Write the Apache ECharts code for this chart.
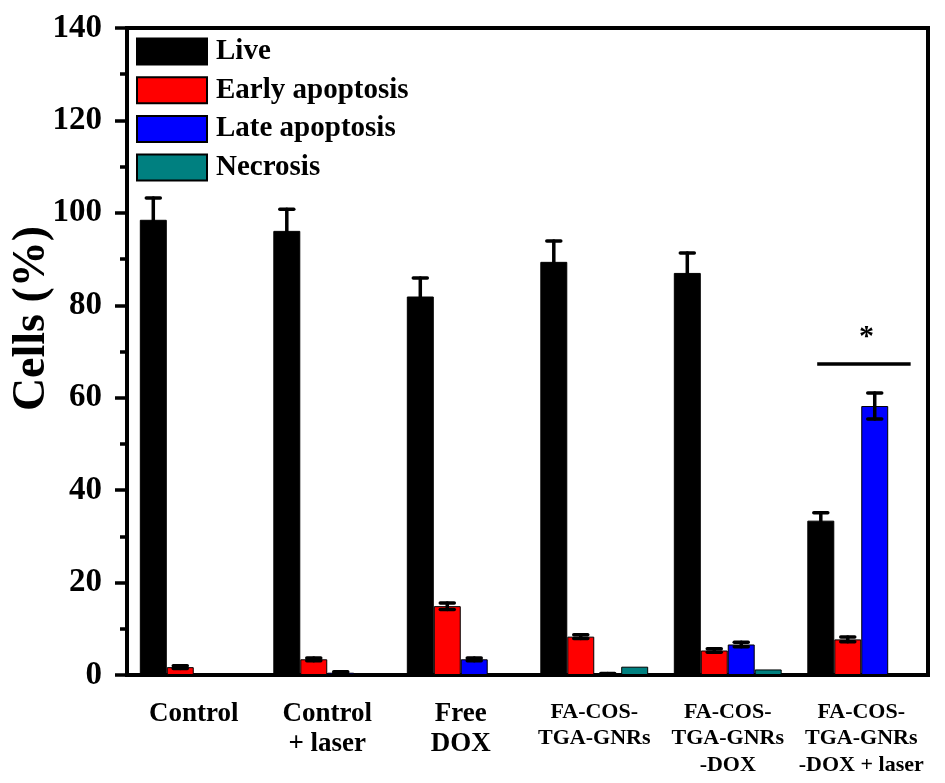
<!DOCTYPE html>
<html>
<head>
<meta charset="utf-8">
<script src="https://cdn.jsdelivr.net/npm/echarts@6/dist/echarts.min.js"></script>
<style>
  html, body { margin: 0; padding: 0; background: #fff; }
  #chart { width: 945px; height: 783px; }
</style>
</head>
<body>
<div id="chart"></div>
<script>
// Treatment groups shown along the x axis
const categories = [
  'Control',
  'Control\n+ laser',
  'Free\nDOX',
  'FA-COS-\nTGA-GNRs',
  'FA-COS-\nTGA-GNRs\n-DOX',
  'FA-COS-\nTGA-GNRs\n-DOX + laser'
];

// Cell populations (%) and their standard deviations
const liveVals      = [98.5, 96.1, 81.9, 89.4, 87.0, 33.4];
const liveErr       = [4.7, 4.7, 4.0, 4.5, 4.3, 1.7];
const earlyVals     = [1.7, 3.4, 14.9, 8.3, 5.3, 7.7];
const earlyErr      = [0.3, 0.3, 0.7, 0.4, 0.4, 0.5];
const lateVals      = [0, 0.5, 3.4, 0.2, 6.6, 58.2];
const lateErr       = [0, 0.2, 0.3, 0.1, 0.5, 2.8];
const necrosisVals  = [0, 0, 0, 1.8, 1.2, 0.3];
const necrosisErr   = [0, 0, 0, 0, 0, 0];

// Y axis ticks
const yTicks = [0, 20, 40, 60, 80, 100, 120, 140];

// Significance bracket over the last group
const sigGroup = 5;
const sigLineValue = 67.3;
const sigStarValue = 73;

const seriesNames = ['Live', 'Early apoptosis', 'Late apoptosis', 'Necrosis'];
const seriesColors = ['#000000', '#ff0000', '#0000ff', '#008080'];
const allVals = [liveVals, earlyVals, lateVals, necrosisVals];
const allErrs = [liveErr, earlyErr, lateErr, necrosisErr];

const FONT = '"Liberation Serif", "Times New Roman", serif';
const BAR_FRAC = 0.202;

// Error bar records: [category index, value, error, series slot]
const errorData = [];
allVals.forEach((vals, s) => {
  vals.forEach((v, i) => {
    if (allErrs[s][i] > 0) errorData.push([i, v, allErrs[s][i], s]);
  });
});

const barSeries = seriesNames.map((name, s) => ({
  name: name,
  type: 'bar',
  data: allVals[s],
  barWidth: (BAR_FRAC * 100) + '%',
  barGap: '0%',
  itemStyle: { color: seriesColors[s], borderColor: '#000', borderWidth: 1 },
  z: 2
}));

function renderError(params, api) {
  const cat = api.value(0);
  const v = api.value(1);
  const e = api.value(2);
  const slot = api.value(3);
  const bandW = api.size([1, 0])[0];
  const barW = bandW * BAR_FRAC;
  const center = api.coord([cat, v]);
  const x = center[0] + (slot - 1.5) * barW;
  const yTop = api.coord([cat, v + e])[1];
  const yBot = api.coord([cat, Math.max(v - e, 0)])[1];
  const capHalf = 7;
  const style = { stroke: '#000', lineWidth: 3.5, lineCap: 'round' };
  return {
    type: 'group',
    children: [
      { type: 'line', shape: { x1: x, y1: yTop, x2: x, y2: yBot }, style: style },
      { type: 'line', shape: { x1: x - capHalf, y1: yTop, x2: x + capHalf, y2: yTop }, style: style },
      { type: 'line', shape: { x1: x - capHalf, y1: yBot, x2: x + capHalf, y2: yBot }, style: style }
    ]
  };
}

function renderSig(params, api) {
  const cat = api.value(0);
  const bandW = api.size([1, 0])[0];
  const p = api.coord([cat, api.value(1)]);
  const s = api.coord([cat, api.value(2)]);
  return {
    type: 'group',
    children: [
      {
        type: 'line',
        shape: { x1: p[0] - 0.33 * bandW, y1: p[1], x2: p[0] + 0.37 * bandW, y2: p[1] },
        style: { stroke: '#000', lineWidth: 3.5 }
      },
      {
        type: 'text',
        style: {
          text: '*', x: s[0] + 0.04 * bandW, y: s[1],
          align: 'center', verticalAlign: 'middle',
          font: 'bold 30px ' + FONT, fill: '#000'
        }
      }
    ]
  };
}

const chart = echarts.init(document.getElementById('chart'), null, { renderer: 'canvas' });

chart.setOption({
  animation: false,
  backgroundColor: '#fff',
  grid: {
    left: 127, right: 17, top: 28, bottom: 108,
    outerBoundsMode: 'none',
    containLabel: false,
    show: true, borderColor: '#000', borderWidth: 4, backgroundColor: 'transparent'
  },
  legend: {
    orient: 'vertical',
    left: 131,
    top: 32,
    itemWidth: 70,
    itemHeight: 26,
    itemGap: 9.7,
    icon: 'rect',
    data: seriesNames,
    textStyle: {
      fontFamily: FONT, fontWeight: 'bold', fontSize: 29, color: '#000',
      lineHeight: 26, padding: [0, 0, 0, 4]
    }
  },
  xAxis: [
    {
      type: 'category',
      data: categories,
      axisLine: { lineStyle: { color: '#000', width: 4 } },
      axisTick: { alignWithLabel: true, length: 11, lineStyle: { color: '#000', width: 3.5 } },
      axisLabel: {
        interval: 0,
        margin: 24,
        color: '#000',
        formatter: function (val) {
          const key = val.indexOf('FA-COS') === 0 ? 's' : 'b';
          return val.split('\n').map(l => '{' + key + '|' + l + '}').join('\n');
        },
        rich: {
          b: { fontFamily: FONT, fontWeight: 'bold', fontSize: 27, lineHeight: 30, color: '#000' },
          s: { fontFamily: FONT, fontWeight: 'bold', fontSize: 22, lineHeight: 26.5, color: '#000' }
        }
      },
      splitLine: { show: false }
    },
    {
      // boundary ticks between groups
      type: 'category',
      data: categories,
      position: 'bottom',
      axisLine: { show: false },
      axisTick: { alignWithLabel: false, length: 7, lineStyle: { color: '#000', width: 3.5 } },
      axisLabel: { show: false },
      splitLine: { show: false }
    }
  ],
  yAxis: {
    type: 'value',
    min: yTicks[0],
    max: yTicks[yTicks.length - 1],
    interval: yTicks[1] - yTicks[0],
    name: 'Cells (%)',
    nameLocation: 'middle',
    nameGap: 72,
    nameMoveOverlap: false,
    nameTextStyle: {
      fontFamily: FONT, fontWeight: 'bold', fontSize: 46, color: '#000',
      padding: [0, 0, 0, 66]
    },
    axisLine: { show: true, lineStyle: { color: '#000', width: 4 } },
    axisTick: { show: true, length: 12, lineStyle: { color: '#000', width: 3.5 } },
    minorTick: { show: true, splitNumber: 2, length: 7, lineStyle: { color: '#000', width: 3.5 } },
    axisLabel: {
      margin: 25, color: '#000',
      fontFamily: FONT, fontWeight: 'bold', fontSize: 33
    },
    splitLine: { show: false }
  },
  series: barSeries.concat([
    {
      type: 'custom',
      name: 'errors',
      renderItem: renderError,
      data: errorData,
      encode: { x: 0, y: 1 },
      z: 5,
      silent: true
    },
    {
      type: 'custom',
      name: 'significance',
      renderItem: renderSig,
      data: [[sigGroup, sigLineValue, sigStarValue]],
      encode: { x: 0, y: 1 },
      z: 5,
      silent: true
    }
  ])
});
</script>
</body>
</html>
